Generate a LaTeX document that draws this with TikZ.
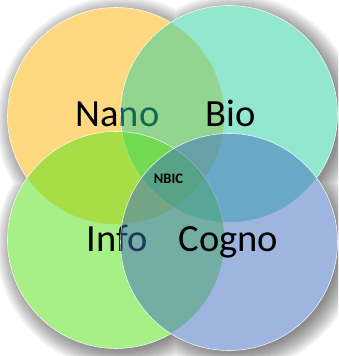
\documentclass[tikz,border=0pt]{standalone}
\usepackage{fontspec}
\setmainfont{Carlito}
\definecolor{cnano}{RGB}{255,181,0}
\definecolor{cbio}{RGB}{39,209,161}
\definecolor{cinfo}{RGB}{81,225,17}
\definecolor{ccogno}{RGB}{65,109,193}
\tikzset{
  ring/.style={circle, minimum size=217pt, inner sep=0pt, fill opacity=0.5, draw=white, draw opacity=0.8, line width=0.6pt},
  biglabel/.style={anchor=base, inner sep=0pt, text=black, font=\fontsize{38.5}{40}\selectfont},
  smalllabel/.style={inner sep=0pt, text=black, font=\bfseries\fontsize{14.5}{16}\selectfont}
}
\begin{document}
\begin{tikzpicture}[x=1pt,y=1pt]
\useasboundingbox (0,0) rectangle (338,356);
\clip (0,0) rectangle (338,356);
\fill[white] (0,0) rectangle (338,356);
% soft shadow
\foreach \d in {16,14,12,10,8,6,4,2,0,-2,-4} {
  \fill[black, opacity=0.05]
    (121,235) circle (108.5+\d) (234,237) circle (108.5+\d)
    (121,111) circle (108.5+\d) (234,109) circle (108.5+\d);
}
\fill[white] (116,240) circle (108.5) (229,242) circle (108.5)
             (116,116) circle (108.5) (229,114) circle (108.5);
% circles with labels
\node[ring, fill=cnano] (nano) at (116,240) {};
\node[biglabel] (nanot) at (117.5,229) {Nano};
\node[ring, fill=cbio] (bio) at (229,242) {};
\node[biglabel] (biot) at (231,229) {Bio};
\node[ring, fill=cinfo] (info) at (116,116) {};
\node[biglabel] (infot) at (117,104) {Info};
\node[ring, fill=ccogno] (cogno) at (229,114) {};
\node[biglabel] (cognot) at (228.5,104) {Cogno};
\node[smalllabel] (nbic) at (168.5,177) {NBIC};
\end{tikzpicture}
\end{document}
